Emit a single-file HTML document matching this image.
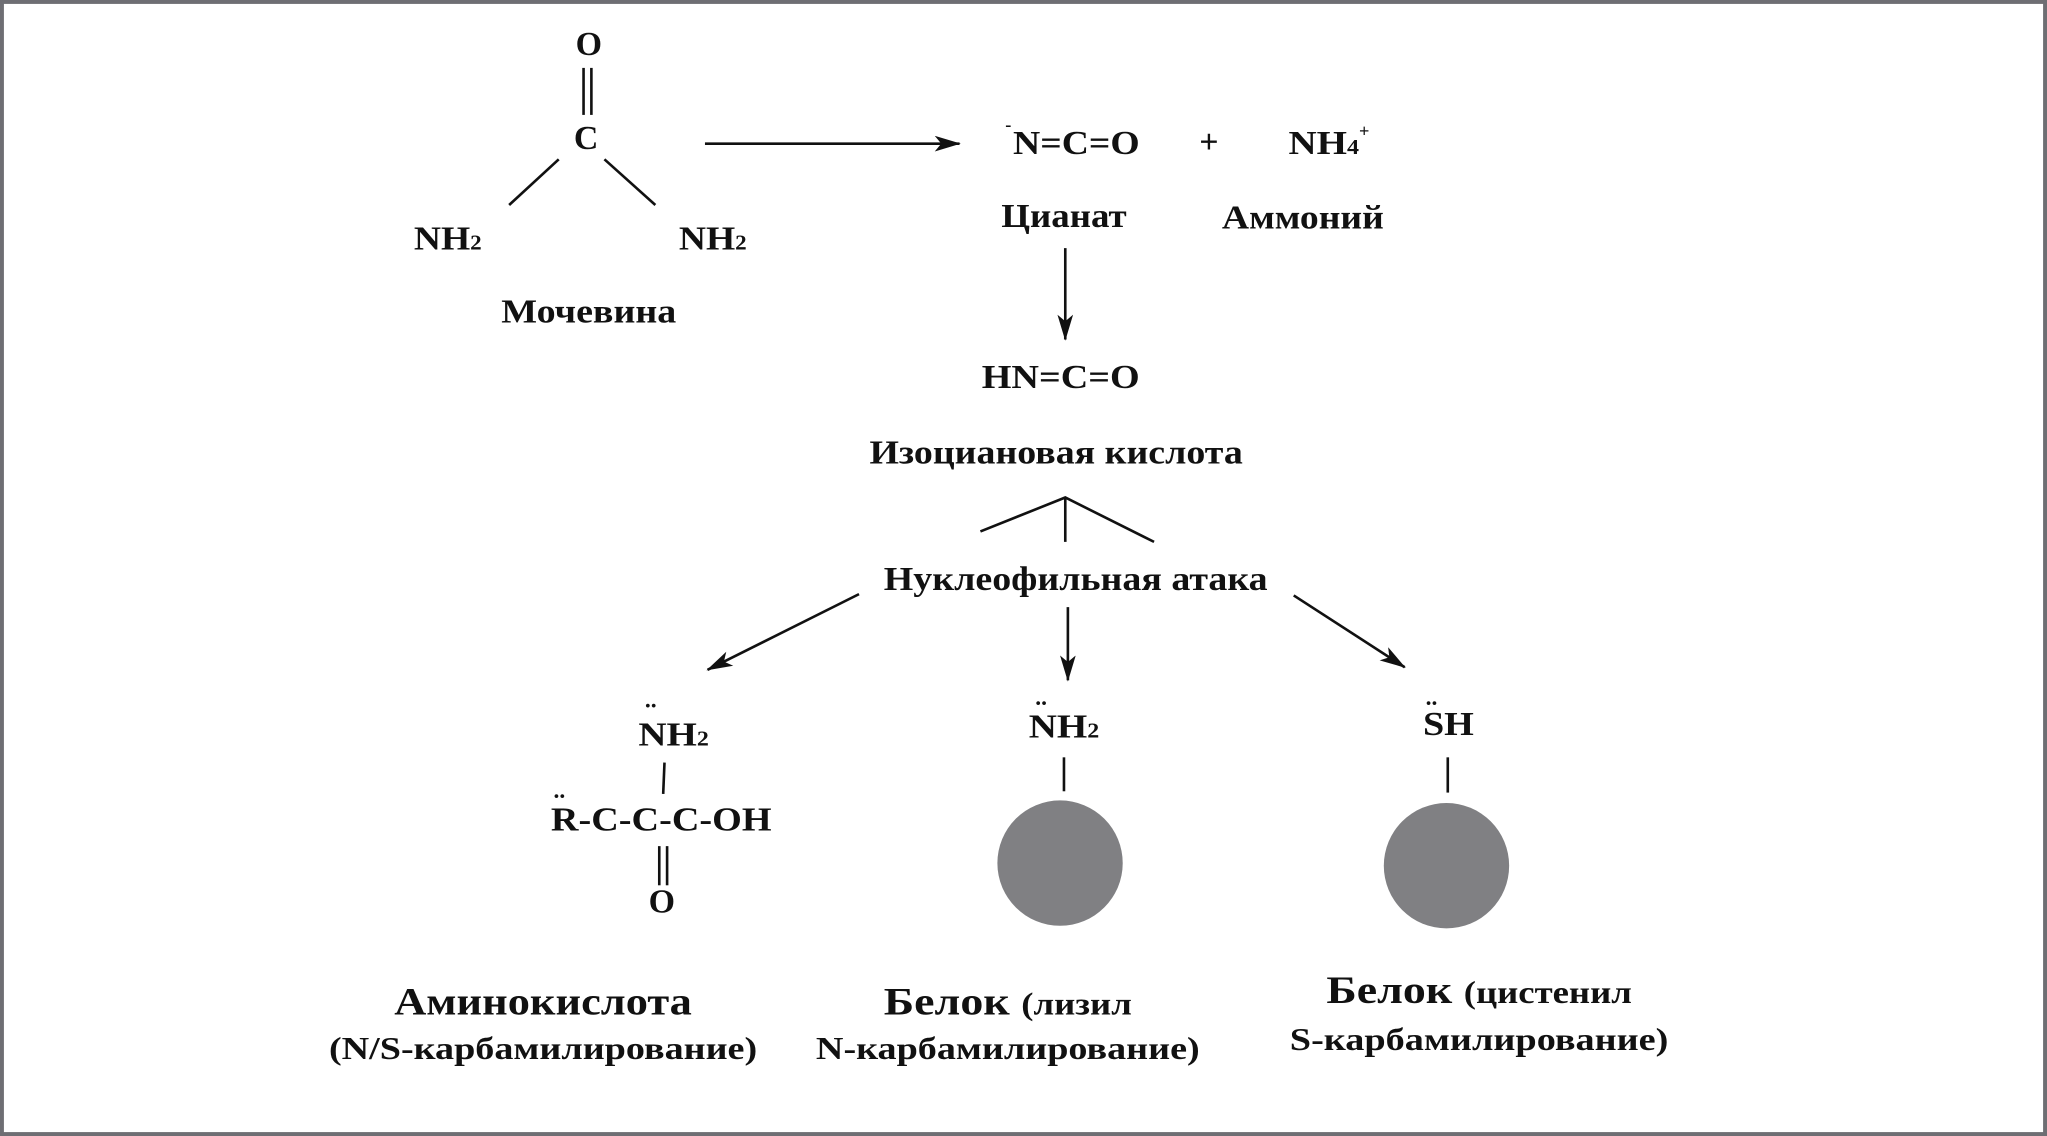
<!DOCTYPE html>
<html><head><meta charset="utf-8"><style>
html,body{margin:0;padding:0;background:#fff}
svg{display:block}
text{font-family:"Liberation Serif",serif;font-weight:bold;fill:#111}
</style></head><body>
<svg width="2047" height="1136" viewBox="0 0 1568 870" preserveAspectRatio="none" xmlns="http://www.w3.org/2000/svg">
<defs><marker id="a" viewBox="0 0 20 12" refX="19" refY="6" markerWidth="20" markerHeight="12" markerUnits="userSpaceOnUse" orient="auto"><path d="M0,0 L20,6 L0,12 L5,6 Z" fill="#111"/></marker></defs>
<rect x="1.5" y="1.5" width="1565" height="867" fill="#fff" stroke="#6e6e73" stroke-width="3"/>
<g stroke="#111" stroke-width="2" fill="none">
<line x1="447" y1="52" x2="447" y2="88"/><line x1="453" y1="52" x2="453" y2="88"/>
<line x1="428" y1="122" x2="390" y2="157"/><line x1="463" y1="122" x2="502" y2="157"/>
<line x1="540" y1="110" x2="735" y2="110" marker-end="url(#a)"/>
<line x1="816" y1="190" x2="816" y2="260" marker-end="url(#a)"/>
<polyline points="751,407 816,381 884,415"/><line x1="816" y1="381" x2="816" y2="415"/>
<line x1="658" y1="455" x2="542" y2="513" marker-end="url(#a)"/>
<line x1="818" y1="465" x2="818" y2="521" marker-end="url(#a)"/>
<line x1="991" y1="456" x2="1076" y2="511" marker-end="url(#a)"/>
<line x1="509" y1="584" x2="508" y2="608"/>
<line x1="505" y1="648" x2="505" y2="678"/><line x1="511" y1="648" x2="511" y2="678"/>
<line x1="815" y1="580" x2="815" y2="606"/>
<line x1="1109" y1="580" x2="1109" y2="607"/>
</g>
<circle cx="812" cy="661" r="48" fill="#808083"/>
<circle cx="1108" cy="663" r="48" fill="#808083"/>
<g font-size="26">
<text x="451" y="42" text-anchor="middle">O</text>
<text x="449" y="114" text-anchor="middle">C</text>
<text x="317" y="191" textLength="52" lengthAdjust="spacingAndGlyphs">NH<tspan font-size="16">2</tspan></text>
<text x="520" y="191" textLength="52" lengthAdjust="spacingAndGlyphs">NH<tspan font-size="16">2</tspan></text>
<text x="451" y="247" text-anchor="middle" textLength="134" lengthAdjust="spacingAndGlyphs">Мочевина</text>
<text x="770" y="100" font-size="14">-</text>
<text x="776" y="118" textLength="97" lengthAdjust="spacingAndGlyphs">N=C=O</text>
<text x="926" y="117" text-anchor="middle">+</text>
<text x="987" y="118" textLength="54" lengthAdjust="spacingAndGlyphs">NH<tspan font-size="16">4</tspan></text>
<text x="1041" y="105" font-size="14">+</text>
<text x="815" y="174" text-anchor="middle" textLength="96" lengthAdjust="spacingAndGlyphs">Цианат</text>
<text x="998" y="175" text-anchor="middle" textLength="124" lengthAdjust="spacingAndGlyphs">Аммоний</text>
<text x="752" y="297" textLength="121" lengthAdjust="spacingAndGlyphs">HN=C=O</text>
<text x="809" y="355" text-anchor="middle" textLength="286" lengthAdjust="spacingAndGlyphs">Изоциановая кислота</text>
<text x="824" y="452" text-anchor="middle" textLength="294" lengthAdjust="spacingAndGlyphs">Нуклеофильная атака</text>
<text x="489" y="571" textLength="54" lengthAdjust="spacingAndGlyphs">NH<tspan font-size="16">2</tspan></text>
<text x="494" y="542" font-size="18">..</text>
<text x="422" y="636" textLength="169" lengthAdjust="spacingAndGlyphs">R-C-C-C-OH</text>
<text x="424" y="611" font-size="18">..</text>
<text x="507" y="699" text-anchor="middle">O</text>
<text x="788" y="565" textLength="54" lengthAdjust="spacingAndGlyphs">NH<tspan font-size="16">2</tspan></text>
<text x="793" y="540" font-size="18">..</text>
<text x="1090" y="563" textLength="39" lengthAdjust="spacingAndGlyphs">SH</text>
<text x="1092" y="540" font-size="18">..</text>
<text x="416" y="777" font-size="30" text-anchor="middle" textLength="228" lengthAdjust="spacingAndGlyphs">Аминокислота</text>
<text x="416" y="811" font-size="24" text-anchor="middle" textLength="328" lengthAdjust="spacingAndGlyphs">(N/S-карбамилирование)</text>
<text x="772" y="777" font-size="30" text-anchor="middle" textLength="190" lengthAdjust="spacingAndGlyphs">Белок <tspan font-size="24">(лизил</tspan></text>
<text x="772" y="811" font-size="24" text-anchor="middle" textLength="294" lengthAdjust="spacingAndGlyphs">N-карбамилирование)</text>
<text x="1133" y="768" font-size="30" text-anchor="middle" textLength="234" lengthAdjust="spacingAndGlyphs">Белок <tspan font-size="24">(цистенил</tspan></text>
<text x="1133" y="804" font-size="24" text-anchor="middle" textLength="290" lengthAdjust="spacingAndGlyphs">S-карбамилирование)</text>
</g>
</svg>
</body></html>
